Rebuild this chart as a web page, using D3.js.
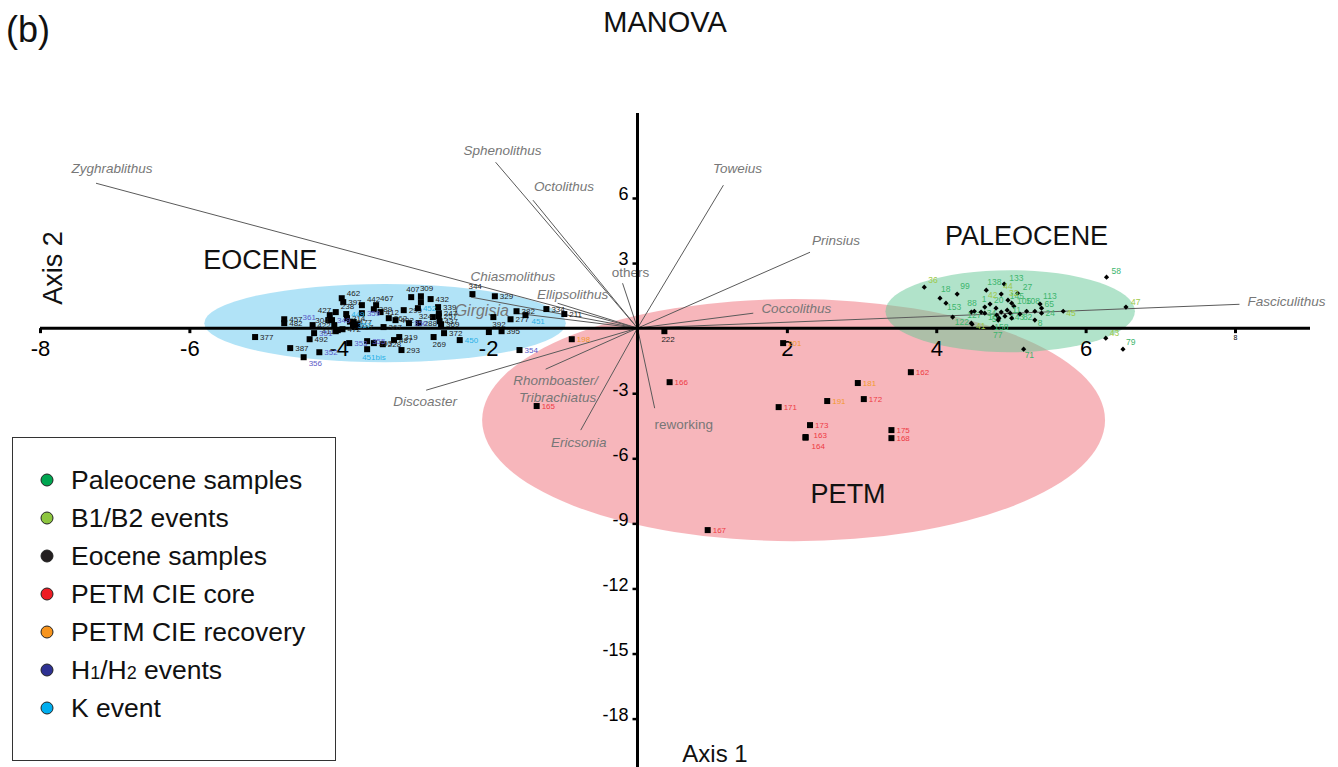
<!DOCTYPE html>
<html><head><meta charset="utf-8">
<script src="https://cdn.jsdelivr.net/npm/d3@7"></script>
<style>body{margin:0;background:#fff}svg{display:block;font-family:Arial,"Liberation Sans",sans-serif}</style>
</head><body><svg id="c" width="1338" height="767"></svg>
<script>
// ---------- DATA ----------
const xTicks = [-8,-6,-4,-2,2,4,6,8];
const yTicks = [6,3,-3,-6,-9,-12,-15,-18];

const ellipseNames = ["PETM","EOCENE","PALEOCENE"];
const ellipseCx = [2.09,-3.38,4.99];
const ellipseCy = [-4.24,0.23,0.78];
const ellipseRx = [4.17,2.42,1.67];
const ellipseRy = [5.58,1.80,1.89];
const groupLabelX = [2.82,-5.05,5.21];
const groupLabelY = [-8.07,2.72,3.83];

const variables = ["Zyghrablithus","Sphenolithus","Octolithus","Toweius","Prinsius","Coccolithus","Fasciculithus","Chiasmolithus","Ellipsolithus","Girgisia","others","Discoaster","Rhomboaster/Tribrachiatus","Ericsonia","reworking"];
const loadingX = [-7.25,-1.90,-1.40,1.15,2.31,1.55,8.06,-2.23,-1.07,-1.63,-0.20,-2.83,-1.23,-0.76,0.23];
const loadingY = [6.68,7.65,5.90,6.59,3.50,0.69,1.10,1.43,1.15,0.69,2.07,-2.86,-1.89,-4.70,-3.69];

const paleoceneSamples = [
 ["18",4.05,1.38],["99",4.28,1.57],["153",4.13,1.15],["122",4.22,0.51],["138",4.67,1.75],["133",4.91,2.03],
 ["88",4.47,0.74],["127",4.47,0.23],["16",4.60,0.74],["1",4.65,0.97],["27",5.09,1.61],["20",4.80,0.92],
 ["145",5.01,1.15],["105",5.04,1.01],["108",5.32,0.78],["113",5.39,1.11],["65",5.41,0.92],["24",5.41,0.69],
 ["11",4.95,0.83],["34",4.65,0.69],["143",4.92,0.55],["52",4.81,0.60],["158",4.83,0.37],["82",5.12,0.65],
 ["8",5.32,0.37],["77",4.76,0.05],["58",6.28,2.35],["79",6.50,-0.97],["71",5.17,-0.97],
 ["",4.51,0.78],["",4.87,0.74],["",4.99,0.69],["",4.84,0.46],["",5.01,0.46],["",5.21,0.78]
];
const b1b2Samples = [
 ["36",3.84,1.89],["41",4.48,0.18],["42",4.72,1.11],["44",4.87,1.57],["32",4.96,1.29],
 ["47",6.54,0.97],["45",5.70,0.78],["43",6.27,-0.46]
];
const eoceneSamples = [
 ["377",-5.12,-0.41],["457",-4.73,0.41],["482",-4.73,0.23],["387",-4.65,-0.92],["492",-4.39,-0.51],
 ["462",-3.96,1.38],["397",-3.94,1.20],["238",-4.04,0.74],["427",-4.12,0.60],["304",-4.14,0.37],
 ["422",-4.06,0.14],["314",-3.89,0.46],["477",-3.80,0.28],["417",-3.78,0.05],["411",-4.04,-0.14],
 ["472",-3.95,-0.05],["442",-3.69,1.06],["467",-3.50,1.06],["389",-3.53,0.87],["412",-3.44,0.74],
 ["262",-3.33,0.46],["402",-3.24,0.37],["367",-3.40,0.05],["288",-2.93,0.23],["299",-3.13,0.83],
 ["407",-3.03,1.43],["309",-2.90,1.47],["432",-2.77,1.34],["339",-2.67,0.97],["324",-2.74,0.51],
 ["247",-2.66,0.69],["257",-2.66,0.55],["437",-2.65,0.32],["369",-2.63,0.18],["344",-2.21,1.57],
 ["329",-1.91,1.47],["392",-1.93,0.51],["277",-1.70,0.41],["382",-1.62,0.78],["334",-1.22,0.88],
 ["211",-0.98,0.65],["395",-1.82,-0.14],["372",-2.59,-0.23],["269",-2.73,-0.41],["319",-3.19,-0.41],
 ["487",-3.26,-0.55],["293",-3.16,-1.01],["228",-3.41,-0.74],["393",-3.53,-0.69],["222",0.36,-0.14],
 ["",-1.99,-0.18],["",-2.90,1.20],["",-3.85,0.30],["",-3.75,0.18]
];
const h1h2Samples = [
 ["356",-4.47,-1.34],["361",-4.35,0.14],["351",-4.33,-0.23],["352",-4.26,-1.11],["349",-4.09,0.37],
 ["359",-3.69,0.69],["350",-3.06,0.23],["355",-3.62,-0.60],["353",-3.86,-0.69],["354",-1.58,-1.01]
];
const kSamples = [
 ["449",-3.90,0.65],["357",-3.81,0.14],["452",-2.94,0.92],["451",-1.50,0.60],["450",-2.38,-0.55],["451bis",-3.62,-0.97]
];
const petmCoreSamples = [
 ["166",0.43,-2.49],["165",-1.35,-3.59],["162",3.66,-2.03],["172",3.03,-3.27],["171",1.89,-3.64],
 ["173",2.31,-4.47],["163",2.25,-5.02],["164",2.25,-5.05],["175",3.40,-4.70],["168",3.40,-5.07],["167",0.94,-9.31]
];
const petmRecoverySamples = [
 ["198",-0.88,-0.51],["201",1.95,-0.69],["181",2.95,-2.53],["191",2.54,-3.36]
];
const legendLabels = ["Paleocene samples","B1/B2 events","Eocene samples","PETM CIE core","PETM CIE recovery","H1/H2 events","K event"];

// ---------- STYLE ----------
const legendColors = ["#00a651","#8dc63f","#231f20","#ed1c24","#f7941d","#2e3192","#00aeef"];
const ellipseFill = ["#f06e78","#64c8f0","#64c896"];
const labelColor = {paleo:"#3db56d",b1:"#9ec94a",eo:"#222",core:"#ee3a43",rec:"#f39a2c",h:"#5a5ac8",k:"#2ab0e6"};

const svg = d3.select("#c");
svg.append("rect").attr("width",1338).attr("height",767).attr("fill","#fff");

const x = d3.scaleLinear().domain([-8,8]).range([40,1235]);
const y = d3.scaleLinear().domain([6,-18]).range([198,718.6]);

// ellipses
const ell = svg.append("g");
ellipseNames.forEach((n,i)=>{
  ell.append("ellipse")
    .attr("cx",x(ellipseCx[i])).attr("cy",y(ellipseCy[i]))
    .attr("rx",x(ellipseCx[i]+ellipseRx[i])-x(ellipseCx[i]))
    .attr("ry",y(ellipseCy[i]-ellipseRy[i])-y(ellipseCy[i]))
    .attr("fill",ellipseFill[i]).attr("fill-opacity",0.5);
});

// vectors
const vg = svg.append("g");
const vecLabelOff = {
 "Zyghrablithus":[16,-15],"Sphenolithus":[7,-12],"Octolithus":[31,-14],"Toweius":[14,-17],"Prinsius":[26,-12],
 "Coccolithus":[43,-5],"Fasciculithus":[47,-3],"Chiasmolithus":[42,-21],"Ellipsolithus":[15,-9],"Girgisia":[-34,-3],
 "others":[8,-11],"Discoaster":[-1,11],"Rhomboaster/Tribrachiatus":[10,11],"Ericsonia":[-2,12],"reworking":[29,16]
};
variables.forEach((v,i)=>{
  vg.append("line").attr("x1",x(0)).attr("y1",y(0)).attr("x2",x(loadingX[i])).attr("y2",y(loadingY[i]))
    .attr("stroke","#5a5a5a").attr("stroke-width",1);
});
variables.forEach((v,i)=>{
  const o = vecLabelOff[v];
  const px = x(loadingX[i])+o[0], py = y(loadingY[i])+o[1];
  const italic = !(v==="others"||v==="reworking");
  const fs = v==="Girgisia"?16:(v==="Rhomboaster/Tribrachiatus"||v==="reworking"||v==="others"?13.5:13.5);
  const t = vg.append("text").attr("x",px).attr("y",py+fs*0.35).attr("text-anchor","middle")
    .attr("font-size",fs).attr("fill","#777").attr("font-style",italic?"italic":"normal");
  if(v==="Rhomboaster/Tribrachiatus"){
    t.append("tspan").attr("x",px).text("Rhomboaster/");
    t.append("tspan").attr("x",px+2).attr("dy",17).text("Tribrachiatus");
  } else t.text(v);
});

// axes
const ax = svg.append("g");
ax.append("line").attr("x1",40).attr("x2",1310).attr("y1",y(0)).attr("y2",y(0)).attr("stroke","#000").attr("stroke-width",3);
ax.append("line").attr("x1",x(0)).attr("x2",x(0)).attr("y1",113).attr("y2",767).attr("stroke","#000").attr("stroke-width",3);
const xa = ax.append("g").attr("transform",`translate(0,${y(0)})`)
  .call(d3.axisBottom(x).tickValues(xTicks).tickSize(5).tickSizeOuter(0).tickFormat(d3.format("d")));
xa.select(".domain").remove();
xa.selectAll(".tick line").attr("stroke","#000").attr("stroke-width",3);
xa.selectAll(".tick text").attr("fill","#000").attr("font-family","Arial,'Liberation Sans',sans-serif")
  .attr("y",d=>d===8?7:12).attr("dy","0.71em")
  .attr("font-size",d=>d===8?7:22).text(d=>d<0?"-"+Math.abs(d):d);
const ya = ax.append("g").attr("transform",`translate(${x(0)},0)`)
  .call(d3.axisLeft(y).tickValues(yTicks).tickSize(5).tickSizeOuter(0).tickFormat(d=>d<0?"-"+Math.abs(d):d));
ya.select(".domain").remove();
ya.selectAll(".tick line").attr("stroke","#000").attr("stroke-width",2.5);
ya.selectAll(".tick text").attr("font-size",18).attr("fill","#000").attr("x",-9).attr("dy","0.1em")
  .attr("font-family","Arial,'Liberation Sans',sans-serif");

// samples
const sg = svg.append("g");
const nudge = {"164":[6,11],"163":[8,1],"451bis":[-5,11],"356":[5,9],"344":[-4,-5],"407":[-5,-5],"309":[-1,-5],
 "462":[5,-2],"442":[5,-3],"467":[4,-4],"222":[-3,11],"269":[-1,10],"392":[-1,10],"127":[-4,-5],"16":[7,8],"77":[0,11],
 "422":[-17,3],"411":[-14,3],"361":[-10,-5],"238":[5,-3],"427":[-12,-2],"304":[-13,3],"324":[-14,2],"451":[6,9],"36":[4,-4],
 "18":[1,-6],"99":[3,-5],"138":[1,-5],"88":[-4,-6],"1":[-3,-5],"42":[-2,-6],"44":[2,-5],"32":[1,-4],"20":[-2,-5],
 "105":[3,-2],"108":[-9,-7],"113":[3,-5],"71":[1,9],"79":[3,-4],"43":[4,-2],"47":[5,-2],"45":[3,5],"52":[-5,7],"158":[-4,10],
 "41":[4,5],"122":[2,8],"153":[1,7],"34":[2,3],"143":[5,4],"82":[3,6],"8":[3,6],"145":[-2,-4],"11":[5,3],"24":[4,3],"65":[3,-1]};
function drawSquares(arr,col){
  arr.forEach(d=>{
    const px=x(d[1]), py=y(d[2]);
    sg.append("rect").attr("x",px-3).attr("y",py-3).attr("width",6).attr("height",6).attr("fill","#000");
    if(d[0]){
      const o = nudge[d[0]]||[5,3];
      sg.append("text").attr("x",px+o[0]).attr("y",py+o[1]).attr("font-size",8).attr("fill",col).text(d[0]);
    }
  });
}
function drawDiamonds(arr,col){
  arr.forEach(d=>{
    const px=x(d[1]), py=y(d[2]);
    sg.append("path").attr("d",`M${px},${py-2.6}L${px+2.6},${py}L${px},${py+2.6}L${px-2.6},${py}Z`).attr("fill","#000");
    if(d[0]){
      const o = nudge[d[0]]||[5,-3];
      sg.append("text").attr("x",px+o[0]).attr("y",py+o[1]).attr("font-size",8.5).attr("fill",col).text(d[0]);
    }
  });
}
drawSquares(eoceneSamples,labelColor.eo);
drawSquares(h1h2Samples,labelColor.h);
drawSquares(kSamples,labelColor.k);
drawSquares(petmCoreSamples,labelColor.core);
drawSquares(petmRecoverySamples,labelColor.rec);
drawDiamonds(paleoceneSamples,labelColor.paleo);
drawDiamonds(b1b2Samples,labelColor.b1);

// group labels
ellipseNames.forEach((n,i)=>{
  svg.append("text").attr("x",x(groupLabelX[i])).attr("y",y(groupLabelY[i])).attr("text-anchor","middle")
    .attr("font-size",27).attr("fill","#111").text(n);
});

// titles
svg.append("text").attr("x",665).attr("y",32).attr("text-anchor","middle").attr("font-size",29).attr("fill","#111").text("MANOVA");
svg.append("text").attr("x",6).attr("y",42).attr("font-size",36).attr("fill","#111").text("(b)");
svg.append("text").attr("transform","translate(62,268) rotate(-90)").attr("text-anchor","middle").attr("font-size",27).attr("fill","#111").text("Axis 2");
svg.append("text").attr("x",715).attr("y",762).attr("text-anchor","middle").attr("font-size",24).attr("fill","#111").text("Axis 1");

// legend
const lg = svg.append("g");
lg.append("rect").attr("x",12.5).attr("y",437.5).attr("width",323).attr("height",323).attr("fill","#fff").attr("stroke","#333").attr("stroke-width",1);
legendLabels.forEach((l,i)=>{
  const cy = 480 + i*38;
  lg.append("circle").attr("cx",47).attr("cy",cy).attr("r",6).attr("fill",legendColors[i]).attr("stroke","#222").attr("stroke-width",1);
  const t = lg.append("text").attr("x",71).attr("y",cy+9).attr("font-size",26.5).attr("fill","#111");
  if(l==="H1/H2 events"){
    t.append("tspan").text("H");
    t.append("tspan").attr("font-size",18).text("1");
    t.append("tspan").text("/H");
    t.append("tspan").attr("font-size",18).text("2");
    t.append("tspan").text(" events");
  } else t.text(l);
});
</script></body></html>
